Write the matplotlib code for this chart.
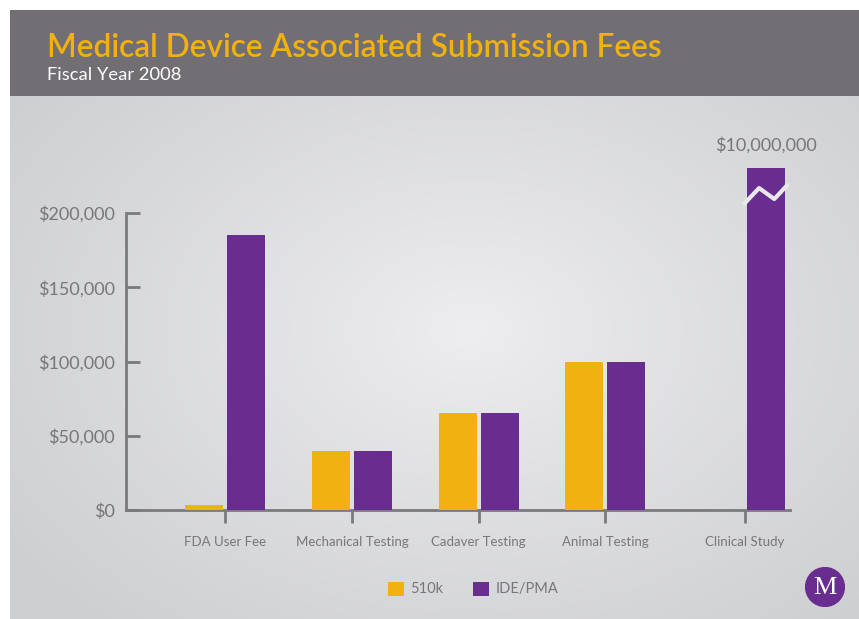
import numpy as np
import matplotlib
matplotlib.use("Agg")
import matplotlib.pyplot as plt
from matplotlib.patches import Rectangle, Circle

# ---- data ----
categories = ["FDA User Fee", "Mechanical Testing", "Cadaver Testing", "Animal Testing", "Clinical Study"]
fees_510k = [3404, 40000, 65000, 100000, 0]
fees_ide_pma = [185000, 40000, 65000, 100000, 10000000]
series_names = ["510k", "IDE/PMA"]
ytick_values = [0, 50000, 100000, 150000, 200000]
ytick_labels = ["$0", "$50,000", "$100,000", "$150,000", "$200,000"]
title = "Medical Device Associated Submission Fees"
subtitle = "Fiscal Year 2008"
big_label = "$10,000,000"

# ---- style ----
W, H = 859, 619
FONT = ["Lato", "DejaVu Sans"]
plt.rcParams["font.family"] = FONT
YELLOW = "#F0B111"
PURPLE = "#692C8F"
GRAY_TXT = "#77767A"
AXIS = "#7A797D"
HEADER = "#716F74"

fig = plt.figure(figsize=(W / 100, H / 100), dpi=100)
fig.patch.set_facecolor("white")

def fx(px):
    return px / W

def fy(py):
    return 1 - py / H

# background panel with radial gradient
bg = fig.add_axes([fx(10), 0, 1 - fx(10), fy(96)])
bg.set_axis_off()
nx, ny = 400, 250
xs = np.linspace(10, 859, nx)
ys = np.linspace(96, 619, ny)
X, Y = np.meshgrid(xs, ys)
r = np.sqrt(((X - 470) / 470) ** 2 + ((Y - 330) / 330) ** 2)
t = np.clip(r, 0, 1.2) / 1.2
c0 = np.array([0xEE, 0xEE, 0xF0]) / 255
c1 = np.array([0xCE, 0xCF, 0xD1]) / 255
img = c0[None, None, :] * (1 - t[..., None] ** 0.9) + c1[None, None, :] * (t[..., None] ** 0.9)
bg.imshow(img, aspect="auto", extent=[0, 1, 0, 1], origin="upper")
bg.set_xlim(0, 1)
bg.set_ylim(0, 1)

# header band
fig.patches.append(Rectangle((fx(10), fy(96)), 1 - fx(10), fy(10) - fy(96),
                             transform=fig.transFigure, facecolor=HEADER, edgecolor="none", zorder=1))
fig.text(fx(47), fy(57), title, color=YELLOW, fontsize=22.8, fontweight="semibold", va="baseline", ha="left")
fig.text(fx(47), fy(80), subtitle, color="white", fontsize=13.2, va="baseline", ha="left")

# main axes
ax = fig.add_axes([fx(126), fy(510), fx(790) - fx(126), fy(213) - fy(510)])
ax.set_facecolor("none")
ymax = ytick_values[-1]
cap = 230000
xpos = np.array([0, 1, 2, 3, 4.103])
off = 0.166
bw = 0.300
b1 = ax.bar(xpos - off, fees_510k, width=bw, color=YELLOW, label=series_names[0], zorder=3)
shown = [min(v, cap) for v in fees_ide_pma]
b2 = ax.bar(xpos + off, shown, width=bw, color=PURPLE, label=series_names[1], zorder=3)
for b in b2:
    b.set_clip_on(False)

# break mark on the capped bar
ci = int(np.argmax(fees_ide_pma))
cx = xpos[ci] + off
bx = cx + np.array([-0.180, -0.055, 0.065, 0.175])
by = [205500, 216800, 209400, 219500]
ax.plot(bx, by, color="#E9E9EB", lw=3, solid_capstyle="butt", clip_on=False, zorder=4)
ax.text(cx, 245800, big_label, ha="center", va="center", color=GRAY_TXT, fontsize=13)

ax.set_xlim(-0.783, 4.458)
ax.set_ylim(0, ymax)
ax.set_yticks(ytick_values)
ax.set_yticklabels(ytick_labels)
ax.set_xticks(xpos)
ax.set_xticklabels(categories)
for s in ["top", "right"]:
    ax.spines[s].set_visible(False)
for s in ["left", "bottom"]:
    ax.spines[s].set_color(AXIS)
    ax.spines[s].set_linewidth(2)
ax.tick_params(axis="y", direction="in", length=10, width=2, color=AXIS, labelcolor=GRAY_TXT,
               labelsize=13, pad=8)
ax.tick_params(axis="x", direction="out", length=9, width=2, color=AXIS, labelcolor=GRAY_TXT,
               labelsize=9.5, pad=10)

# legend
leg = fig.legend(handles=[b1, b2], labels=series_names, loc="center",
                 bbox_to_anchor=(fx(473), fy(589)), ncol=2, frameon=False,
                 handlelength=1.1, handleheight=1.1, handletextpad=0.45, columnspacing=2.0,
                 fontsize=10.5)
for t_ in leg.get_texts():
    t_.set_color(GRAY_TXT)

# logo
lg = fig.add_axes([fx(805), fy(607), fx(40), fy(567) - fy(607)])
lg.set_axis_off()
lg.set_xlim(-1, 1)
lg.set_ylim(-1, 1)
lg.add_patch(Circle((0, 0), 0.97, color=PURPLE))
lg.text(0, -0.05, "M", ha="center", va="center", color="white", fontsize=19,
        family=["Liberation Serif", "DejaVu Serif"])

fig.savefig("out.png", dpi=100)
